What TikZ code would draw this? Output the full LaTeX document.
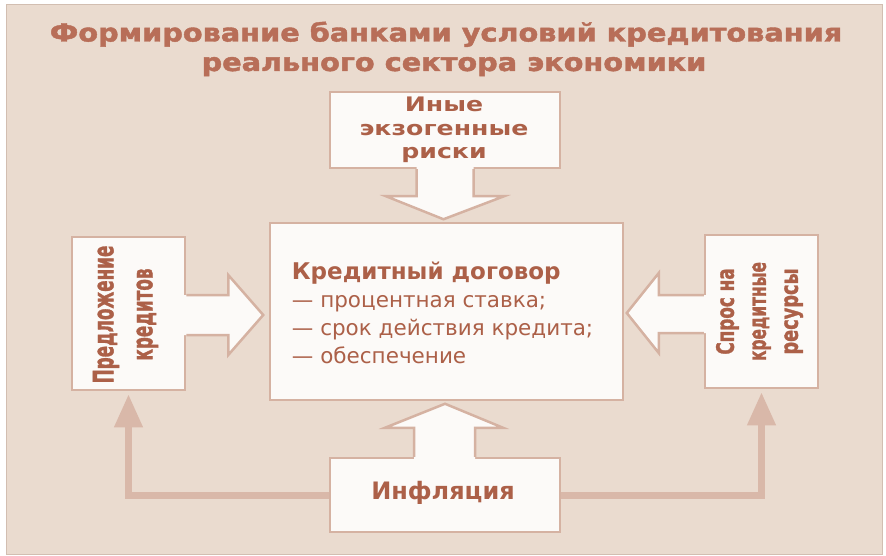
\documentclass[tikz,border=0pt]{standalone}
\usepackage{fontspec}
\usepackage{graphicx}
\setmainfont{DejaVu Sans}
\newfontfamily\heavyfont{DejaVu Sans}[BoldFeatures={FakeBold=1.6}]
\usetikzlibrary{calc,arrows.meta}
\definecolor{bgc}{HTML}{EADBCF}
\definecolor{framec}{HTML}{D2BEB1}
\definecolor{boxfill}{HTML}{FCFAF8}
\definecolor{boxline}{HTML}{D5B2A2}
\definecolor{connc}{HTML}{D9B8A9}
\definecolor{titlec}{HTML}{B86E58}
\definecolor{textc}{HTML}{AC6048}
\newcommand{\cnd}[2]{\scalebox{#1}[1]{#2}}
\begin{document}
\begin{tikzpicture}[x=1pt,y=-1pt,
  box/.style={draw=boxline,line width=2.5pt,fill=boxfill,inner sep=0pt},
  barrow/.style={draw=boxline,line width=2.5pt,line join=miter},
  barrowfill/.style={fill=boxfill},
  conn/.style={draw=connc,line width=7pt,-{Triangle[width=27pt,length=33pt]},shorten >=3pt},
  ttl/.style={font=\heavyfont\fontsize{25}{29}\selectfont\bfseries,text=titlec,anchor=base,inner sep=0pt},
  lbl/.style={font=\fontsize{20}{23.3}\selectfont\bfseries,text=textc,align=center,inner sep=0pt}
]
\useasboundingbox (0,0) rectangle (886,556);
\fill[white] (0,0) rectangle (886,556);
\draw[fill=bgc,draw=framec,line width=1pt] (6,5) rectangle (882,554);

% title
\node[ttl] (t1) at (446,41.5) {\cnd{1.15}{Формирование банками условий кредитования}};
\node[ttl] (t2) at (454,71) {\cnd{1.15}{реального сектора экономики}};

% boxes
\node[box,minimum width=230pt,minimum height=76pt] (risks) at (445,130) {};
\node[box,minimum width=353pt,minimum height=177pt] (contract) at (446.5,311.5) {};
\node[box,minimum width=113pt,minimum height=153pt] (offer) at (128.5,313.5) {};
\node[box,minimum width=113pt,minimum height=153pt] (demand) at (761.5,311.5) {};
\node[box,minimum width=230pt,minimum height=74pt] (infl) at (445,495) {};

% connectors from inflation
\draw[conn] (infl.west) -| (offer.south);
\draw[conn] (infl.east) -| (demand.south);

% block arrows
\begin{scope}[shift={(risks.south)}]
  \fill[barrowfill] (-28.5,-3) -- (-28.5,27) -- (-59,27) -- (-1.5,50) -- (59,27) -- (28.5,27) -- (28.5,-3) -- cycle;
  \draw[barrow] (-28.5,0) -- (-28.5,27) -- (-59,27) -- (-1.5,50) -- (59,27) -- (28.5,27) -- (28.5,0);
\end{scope}
\begin{scope}[shift={(offer.east)}]
  \fill[barrowfill] (-3,-18.5) -- (42,-18.5) -- (42,-38.5) -- (77,1.5) -- (42,41.5) -- (42,21.5) -- (-3,21.5) -- cycle;
  \draw[barrow] (0,-18.5) -- (42,-18.5) -- (42,-38.5) -- (77,1.5) -- (42,41.5) -- (42,21.5) -- (0,21.5);
\end{scope}
\begin{scope}[shift={(demand.west)}]
  \fill[barrowfill] (3,-16.5) -- (-45,-16.5) -- (-45,-38.5) -- (-77,1.5) -- (-45,41.5) -- (-45,21.5) -- (3,21.5) -- cycle;
  \draw[barrow] (0,-16.5) -- (-45,-16.5) -- (-45,-38.5) -- (-77,1.5) -- (-45,41.5) -- (-45,21.5) -- (0,21.5);
\end{scope}
\begin{scope}[shift={(infl.north)}]
  \fill[barrowfill] (-31,3) -- (-31,-29) -- (-60,-29) -- (0,-53) -- (58,-29) -- (30,-29) -- (30,3) -- cycle;
  \draw[barrow] (-31,0) -- (-31,-29) -- (-60,-29) -- (0,-53) -- (58,-29) -- (30,-29) -- (30,0);
\end{scope}

% texts
\node[lbl] (risksT) at ($(risks.center)+(-1,0)$) {\cnd{1.26}{Иные}\\\cnd{1.26}{экзогенные}\\\cnd{1.26}{риски}};
\node[lbl,font=\fontsize{24}{28}\selectfont\bfseries] (inflT) at ($(infl.center)+(-2,-2)$) {Инфляция};
\node[lbl,font=\heavyfont\fontsize{28}{39}\selectfont\bfseries,rotate=90] (offerT) at ($(offer.center)+(-3,1)$)
  {\cnd{0.6}{Предложение}\\\cnd{0.6}{кредитов}};
\node[lbl,font=\heavyfont\fontsize{24}{32}\selectfont\bfseries,rotate=90] (demandT) at ($(demand.center)+(-2,0)$)
  {\cnd{0.7}{Спрос на}\\\cnd{0.64}{кредитные}\\\cnd{0.74}{ресурсы}};
\node[anchor=west,align=left,text=textc,inner sep=0pt,font=\fontsize{21.5}{28}\selectfont] (contractT)
  at ($(contract.west)+(23,1)$)
  {{\fontsize{23}{28}\selectfont\bfseries Кредитный договор}\\
   — процентная ставка;\\
   — срок действия кредита;\\
   — обеспечение};
\end{tikzpicture}
\end{document}
